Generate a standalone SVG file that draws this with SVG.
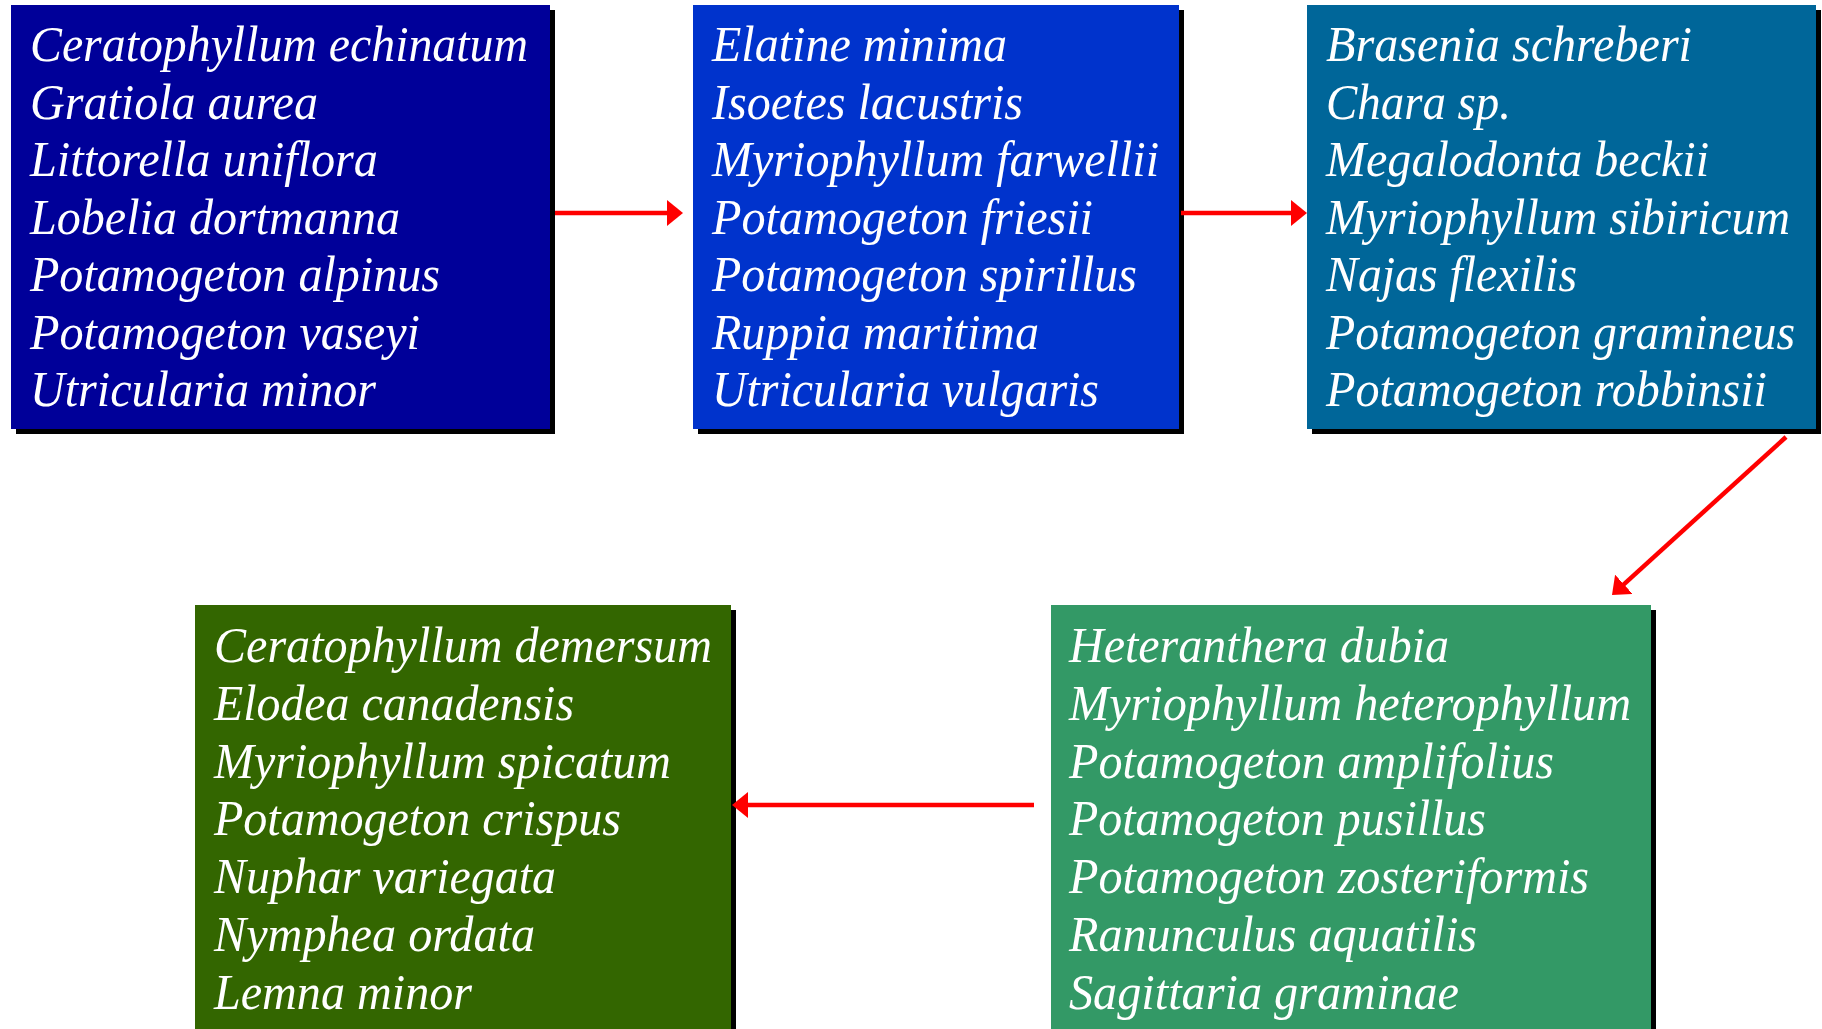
<svg xmlns="http://www.w3.org/2000/svg" width="1822" height="1029" viewBox="0 0 1822 1029">
<style>
.t{font-family:"Liberation Serif","Times New Roman",serif;font-style:italic;font-size:50px;fill:#fff}
.sh{fill:#000}
.ar{stroke:#f00;stroke-width:4.5;fill:none}
</style>
<defs>
<marker id="ah" markerUnits="userSpaceOnUse" viewBox="0 0 16 26" refX="6" refY="13" markerWidth="16" markerHeight="26" orient="auto">
<path d="M0,0 L16,13 L0,26 Z" fill="#f00"/>
</marker>
</defs>
<rect width="1822" height="1029" fill="#fff"/>
<g id="node1">
<rect class="sh" x="16" y="10" width="539" height="424"/>
<rect x="11" y="5" width="539" height="424" fill="#000099"/>
<text class="t" x="30" y="61" textLength="498" lengthAdjust="spacingAndGlyphs">Ceratophyllum echinatum</text>
<text class="t" x="30" y="118.5" textLength="288" lengthAdjust="spacingAndGlyphs">Gratiola aurea</text>
<text class="t" x="30" y="176" textLength="348" lengthAdjust="spacingAndGlyphs">Littorella uniflora</text>
<text class="t" x="30" y="233.5" textLength="370" lengthAdjust="spacingAndGlyphs">Lobelia dortmanna</text>
<text class="t" x="30" y="291" textLength="410" lengthAdjust="spacingAndGlyphs">Potamogeton alpinus</text>
<text class="t" x="30" y="348.5" textLength="390" lengthAdjust="spacingAndGlyphs">Potamogeton vaseyi</text>
<text class="t" x="30" y="406" textLength="346" lengthAdjust="spacingAndGlyphs">Utricularia minor</text>
</g>
<g id="node2">
<rect class="sh" x="698" y="10" width="486" height="424"/>
<rect x="693" y="5" width="486" height="424" fill="#0033CC"/>
<text class="t" x="712" y="61" textLength="295" lengthAdjust="spacingAndGlyphs">Elatine minima</text>
<text class="t" x="712" y="118.5" textLength="311" lengthAdjust="spacingAndGlyphs">Isoetes lacustris</text>
<text class="t" x="712" y="176" textLength="447" lengthAdjust="spacingAndGlyphs">Myriophyllum farwellii</text>
<text class="t" x="712" y="233.5" textLength="381" lengthAdjust="spacingAndGlyphs">Potamogeton friesii</text>
<text class="t" x="712" y="291" textLength="425" lengthAdjust="spacingAndGlyphs">Potamogeton spirillus</text>
<text class="t" x="712" y="348.5" textLength="327" lengthAdjust="spacingAndGlyphs">Ruppia maritima</text>
<text class="t" x="712" y="406" textLength="387" lengthAdjust="spacingAndGlyphs">Utricularia vulgaris</text>
</g>
<g id="node3">
<rect class="sh" x="1312" y="10" width="509" height="424"/>
<rect x="1307" y="5" width="509" height="424" fill="#006699"/>
<text class="t" x="1326" y="61" textLength="366" lengthAdjust="spacingAndGlyphs">Brasenia schreberi</text>
<text class="t" x="1326" y="118.5" textLength="185" lengthAdjust="spacingAndGlyphs">Chara sp.</text>
<text class="t" x="1326" y="176" textLength="383" lengthAdjust="spacingAndGlyphs">Megalodonta beckii</text>
<text class="t" x="1326" y="233.5" textLength="464" lengthAdjust="spacingAndGlyphs">Myriophyllum sibiricum</text>
<text class="t" x="1326" y="291" textLength="251" lengthAdjust="spacingAndGlyphs">Najas flexilis</text>
<text class="t" x="1326" y="348.5" textLength="469" lengthAdjust="spacingAndGlyphs">Potamogeton gramineus</text>
<text class="t" x="1326" y="406" textLength="441" lengthAdjust="spacingAndGlyphs">Potamogeton robbinsii</text>
</g>
<g id="node4">
<rect class="sh" x="1056" y="610" width="600" height="430"/>
<rect x="1051" y="605" width="600" height="430" fill="#339966"/>
<text class="t" x="1069" y="662" textLength="380" lengthAdjust="spacingAndGlyphs">Heteranthera dubia</text>
<text class="t" x="1069" y="719.8" textLength="562" lengthAdjust="spacingAndGlyphs">Myriophyllum heterophyllum</text>
<text class="t" x="1069" y="777.6" textLength="485" lengthAdjust="spacingAndGlyphs">Potamogeton amplifolius</text>
<text class="t" x="1069" y="835.4" textLength="417" lengthAdjust="spacingAndGlyphs">Potamogeton pusillus</text>
<text class="t" x="1069" y="893.2" textLength="520" lengthAdjust="spacingAndGlyphs">Potamogeton zosteriformis</text>
<text class="t" x="1069" y="951" textLength="408" lengthAdjust="spacingAndGlyphs">Ranunculus aquatilis</text>
<text class="t" x="1069" y="1008.8" textLength="390" lengthAdjust="spacingAndGlyphs">Sagittaria graminae</text>
</g>
<g id="node5">
<rect class="sh" x="200" y="610" width="536" height="430"/>
<rect x="195" y="605" width="536" height="430" fill="#336600"/>
<text class="t" x="214" y="662" textLength="498" lengthAdjust="spacingAndGlyphs">Ceratophyllum demersum</text>
<text class="t" x="214" y="719.8" textLength="360" lengthAdjust="spacingAndGlyphs">Elodea canadensis</text>
<text class="t" x="214" y="777.6" textLength="457" lengthAdjust="spacingAndGlyphs">Myriophyllum spicatum</text>
<text class="t" x="214" y="835.4" textLength="407" lengthAdjust="spacingAndGlyphs">Potamogeton crispus</text>
<text class="t" x="214" y="893.2" textLength="342" lengthAdjust="spacingAndGlyphs">Nuphar variegata</text>
<text class="t" x="214" y="951" textLength="321" lengthAdjust="spacingAndGlyphs">Nymphea ordata</text>
<text class="t" x="214" y="1008.8" textLength="258" lengthAdjust="spacingAndGlyphs">Lemna minor</text>
</g>
<g id="connectors">
<path class="ar" d="M555,213 L673,213" marker-end="url(#ah)"/>
<path class="ar" d="M1181,213 L1297,213" marker-end="url(#ah)"/>
<path class="ar" d="M1786,437 L1619.4,588.3" marker-end="url(#ah)"/>
<path class="ar" d="M1034,805 L742,805" marker-end="url(#ah)"/>
</g>
</svg>
